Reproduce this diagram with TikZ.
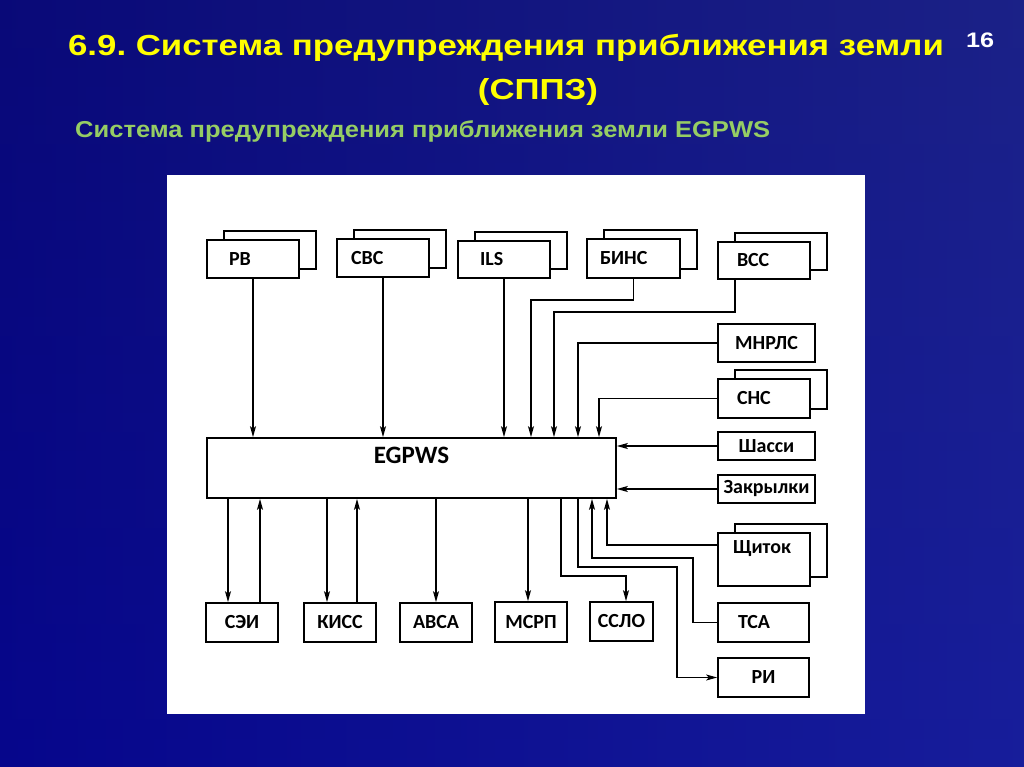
\documentclass[tikz,border=0pt]{standalone}
\usepackage{fontspec}
\setmainfont{Liberation Sans}
\newfontfamily\boxfont{Carlito}
\newfontfamily\headfont[FakeStretch=1.2]{Liberation Sans}
\newfontfamily\subfont[FakeStretch=1.11]{Liberation Sans}
\usetikzlibrary{arrows.meta,shadows}
\frenchspacing

\definecolor{bgtop}{RGB}{14,14,100}
\definecolor{bgbot}{RGB}{6,6,140}
\definecolor{bgright}{RGB}{40,52,170}
\definecolor{titleyel}{RGB}{255,255,0}
\definecolor{subgreen}{RGB}{150,205,100}

\tikzset{
  box/.style={draw, line width=1.7pt, fill=white, inner sep=2pt,
    font=\boxfont\bfseries\fontsize{20}{22}\selectfont},
  dbl/.style={box, align=left, copy shadow={shadow xshift=17pt, shadow yshift=9pt}},
  arr/.style={line width=1.3pt, -{Stealth[length=11pt,width=6pt,inset=2.5pt]}},
  head/.style={inner sep=0pt, font=\headfont\bfseries\fontsize{29}{31}\selectfont, text=titleyel},
}

\begin{document}
\begin{tikzpicture}[x=1pt, y=-1pt]
  % slide background
  \shade[top color=bgtop, bottom color=bgbot] (0,0) rectangle (1024,767);
  \shade[left color=bgbot, right color=bgright, opacity=0.5] (0,0) rectangle (1024,767);
  \useasboundingbox (0,0) rectangle (1024,767);

  \node[head, anchor=base] (title) at (506,56) {6.9. Система предупреждения приближения земли};
  \node[head, anchor=base] (title2) at (538,100) {(СППЗ)};
  \node[anchor=base west, inner sep=0pt, text=subgreen, font=\subfont\bfseries\fontsize{23}{25}\selectfont] (subtitle) at (75,138) {Система предупреждения приближения земли EGPWS};
  \node[anchor=base, inner sep=0pt, text=white, font=\headfont\bfseries\fontsize{21}{23}\selectfont] (pagenum) at (980,48) {16};

  \fill[white] (167,175) rectangle (865,714);

  % inputs
  \node[dbl, minimum width=92pt, minimum height=38pt, text width=48pt] (rv) at (253,259) {РВ};
  \node[dbl, minimum width=92pt, minimum height=38pt, text width=64pt] (svs) at (383,258) {СВС};
  \node[dbl, minimum width=92pt, minimum height=37pt, text width=48pt] (ils) at (504,259.5) {ILS};
  \node[dbl, minimum width=93pt, minimum height=39pt, text width=67pt] (bins) at (633.5,258.5) {БИНС};
  \node[dbl, minimum width=92pt, minimum height=37pt, text width=54pt] (vss) at (764,260.5) {ВСС};
  \node[box, minimum width=97pt, minimum height=38pt] (mnrls) at (766.5,343) {МНРЛС};
  \node[dbl, minimum width=92pt, minimum height=39pt, text width=54pt] (sns) at (764,398.5) {СНС};
  \node[box, minimum width=97pt, minimum height=28pt] (shassi) at (766.5,446) {Шасси};
  \node[box, minimum width=97pt, minimum height=28pt] (zakr) at (766.5,489) {Закрылки};
  \node[dbl, minimum width=92pt, minimum height=53pt, text width=62pt, text depth=24pt] (shchitok) at (764,559.5) {Щиток};
  \node[box, minimum width=91pt, minimum height=39pt, align=left, text width=51pt] (tsa) at (763.5,622.5) {ТСА};
  \node[box, minimum width=91pt, minimum height=39pt] (ri) at (763.5,677.5) {РИ};

  % main unit
  \node[box, minimum width=409pt, minimum height=60pt, text height=16pt, text depth=26pt,
    font=\boxfont\bfseries\fontsize{25}{27}\selectfont] (egpws) at (411.5,468) {EGPWS};

  % outputs
  \node[box, minimum width=72pt, minimum height=39pt] (sei) at (242,622.5) {СЭИ};
  \node[box, minimum width=72pt, minimum height=39pt] (kiss) at (340,622.5) {КИСС};
  \node[box, minimum width=72pt, minimum height=39pt] (avsa) at (436,622.5) {АВСА};
  \node[box, minimum width=72pt, minimum height=40pt] (msrp) at (531,622) {МСРП};
  \node[box, minimum width=63pt, minimum height=39pt] (sslo) at (621.5,621.5) {ССЛО};

  % connectors into EGPWS
  \draw[arr] (rv.south) -- (rv.south |- egpws.north);
  \draw[arr] (svs.south) -- (svs.south |- egpws.north);
  \draw[arr] (ils.south) -- (ils.south |- egpws.north);
  \draw[arr] (bins.south) |- (531,300) -- (531,0 |- egpws.north);
  \draw[arr] ([xshift=-29pt]vss.south) |- (554,312) -- (554,0 |- egpws.north);
  \draw[arr] (mnrls.west) -| (578,0 |- egpws.north);
  \draw[arr] (sns.west) -| (599,0 |- egpws.north);
  \draw[arr] (shassi.west) -- (shassi.west -| egpws.east);
  \draw[arr] (zakr.west) -- (zakr.west -| egpws.east);
  \draw[arr] ([yshift=14.5pt]shchitok.west) -| (607,0 |- egpws.south);
  \draw[arr] (tsa.west) -| (693,558) -| (592,0 |- egpws.south);

  % connectors out of EGPWS
  \draw[arr] (228,0 |- egpws.south) -- (228,0 |- sei.north);
  \draw[arr] (260,0 |- sei.north) -- (260,0 |- egpws.south);
  \draw[arr] (327,0 |- egpws.south) -- (327,0 |- kiss.north);
  \draw[arr] (357,0 |- kiss.north) -- (357,0 |- egpws.south);
  \draw[arr] (avsa.north |- egpws.south) -- (avsa.north);
  \draw[arr] (528,0 |- egpws.south) -- (528,0 |- msrp.north);
  \draw[arr] (561,0 |- egpws.south) |- (626,576) -- (626,0 |- sslo.north);
  \draw[arr] (578,0 |- egpws.south) |- (677,567) |- (ri.west);
\end{tikzpicture}
\end{document}
